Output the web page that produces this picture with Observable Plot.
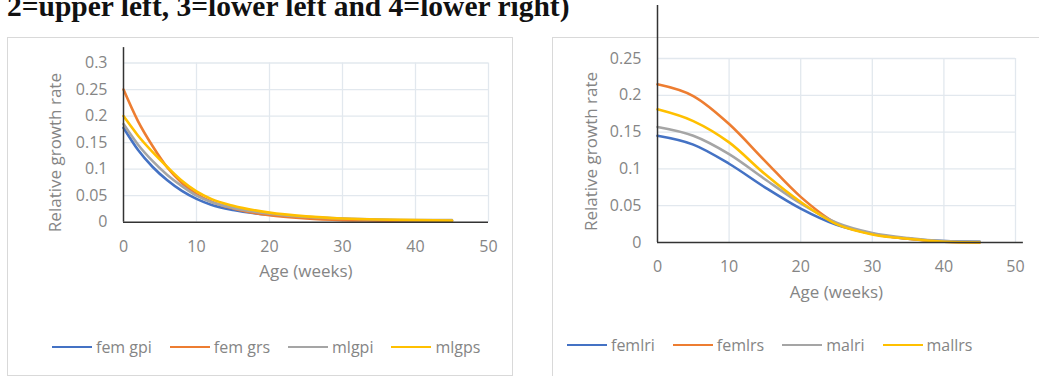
<!DOCTYPE html>
<html>
<head>
<meta charset="utf-8">
<script src="https://cdn.jsdelivr.net/npm/d3@7"></script>
<script src="https://cdn.jsdelivr.net/npm/@observablehq/plot@0.6"></script>
<style>
  html, body { margin: 0; padding: 0; background: #fff; width: 1039px; height: 376px; overflow: hidden; position: relative; }
  .title { position: absolute; left: 7px; top: -8px; font-family: "Liberation Serif", "Times New Roman", serif; font-weight: bold; font-size: 29.5px; line-height: 29px; color: #111; white-space: nowrap; }
  .panel { position: absolute; border: 1px solid #d9d9d9; box-sizing: border-box; }
  .chart { position: absolute; top: 0; }
  .legend { position: absolute; display: flex; align-items: center; font-family: "Open Sans", sans-serif; font-size: 16px; color: #858585; white-space: nowrap; }
  .legend .item { display: flex; align-items: center; }
  .legend .sw { width: 40px; height: 2.5px; margin-right: 4px; }
</style>
</head>
<body>
<div class="title">2=upper left, 3=lower left and 4=lower right)</div>
<div class="panel" style="left:7px;top:37px;width:506px;height:339px;"></div>
<div class="panel" style="left:552px;top:37px;width:500px;height:345px;"></div>
<div id="left" class="chart" style="left:0px;"></div>
<div id="right" class="chart" style="left:534px;"></div>
<div id="legL" class="legend" style="left:52px;top:336px;"></div>
<div id="legR" class="legend" style="left:567px;top:334px;"></div>
<script>
// ---- data: left chart ----
const weeksL = [0, 2, 4, 6, 8, 10, 12, 15, 20, 25, 30, 35, 40, 45];
const femGpi = [0.178, 0.136, 0.104, 0.079, 0.059, 0.044, 0.033, 0.023, 0.014, 0.009, 0.006, 0.004, 0.003, 0.003];
const femGrs = [0.250, 0.190, 0.143, 0.103, 0.074, 0.053, 0.039, 0.026, 0.013, 0.007, 0.004, 0.003, 0.002, 0.002];
const mlgpi  = [0.185, 0.146, 0.115, 0.089, 0.068, 0.050, 0.038, 0.027, 0.016, 0.010, 0.007, 0.005, 0.004, 0.004];
const mlgps  = [0.200, 0.163, 0.132, 0.104, 0.078, 0.058, 0.044, 0.031, 0.018, 0.011, 0.007, 0.005, 0.004, 0.003];
const namesL = ["fem gpi", "fem grs", "mlgpi", "mlgps"];

// ---- data: right chart ----
const weeksR = [0, 5, 10, 15, 20, 25, 30, 35, 40, 45];
const femlri = [0.145, 0.133, 0.107, 0.075, 0.046, 0.024, 0.012, 0.005, 0.002, 0.001];
const femlrs = [0.215, 0.199, 0.161, 0.111, 0.062, 0.026, 0.012, 0.005, 0.001, 0.000];
const malri  = [0.157, 0.145, 0.120, 0.086, 0.053, 0.027, 0.013, 0.006, 0.002, 0.001];
const mallrs = [0.181, 0.165, 0.136, 0.093, 0.055, 0.025, 0.011, 0.005, 0.001, 0.000];
const namesR = ["femlri", "femlrs", "malri", "mallrs"];

// ---- ticks / labels ----
const xTicks = [0, 10, 20, 30, 40, 50];
const yTicksL = [0, 0.05, 0.1, 0.15, 0.2, 0.25, 0.3];
const yTicksR = [0, 0.05, 0.1, 0.15, 0.2, 0.25];
const xTitle = "Age (weeks)";
const yTitle = "Relative growth rate";
const colors = ["#4472C4", "#ED7D31", "#A5A5A5", "#FFC000"];

const tableL = [femGpi, femGrs, mlgpi, mlgps].flatMap((vals, i) =>
  vals.map((v, j) => ({week: weeksL[j], value: v, series: namesL[i]})));
const tableR = [femlri, femlrs, malri, mallrs].flatMap((vals, i) =>
  vals.map((v, j) => ({week: weeksR[j], value: v, series: namesR[i]})));

const txtColor = "#858585";
const font = {fontFamily: "'Open Sans', sans-serif", fontSize: "16px", color: txtColor, background: "transparent", overflow: "visible"};
const gridColor = "#e2e8ee";

function chart({table, names, yTicks, width, mL, mR, mT, mB, axisTop, axisRight, xDy, yDx, yDy}) {
  const yMax = yTicks[yTicks.length - 1];
  return Plot.plot({
    width, height: 300,
    marginLeft: mL, marginRight: mR, marginTop: mT, marginBottom: mB,
    x: {domain: [0, 50]},
    y: {domain: [0, yMax]},
    color: {domain: names, range: colors},
    style: font,
    marks: [
      Plot.gridX(xTicks.filter(d => d > 0), {stroke: gridColor, strokeOpacity: 1, strokeWidth: 1.3}),
      Plot.gridY(yTicks.filter(d => d > 0), {stroke: gridColor, strokeOpacity: 1, strokeWidth: 1.3}),
      Plot.axisX(xTicks, {tickSize: 0, tickPadding: 18, label: null, fill: txtColor}),
      Plot.axisY(yTicks, {tickSize: 0, tickPadding: 16, label: null, fill: txtColor, tickFormat: d => String(d)}),
      Plot.lineY(table, {x: "week", y: "value", stroke: "series", z: "series", curve: "monotone-x", strokeWidth: 2.6}),
      Plot.ruleY([0], {x1: 0, x2: axisRight, stroke: "#333", strokeWidth: 1.5}),
      Plot.ruleX([0], {y1: 0, y2: axisTop, stroke: "#333", strokeWidth: 1.5}),
      Plot.text([xTitle], {frameAnchor: "bottom", dy: xDy, fill: txtColor, fontSize: 17}),
      Plot.text([yTitle], {frameAnchor: "left", rotate: -90, textAnchor: "middle", dx: yDx, dy: yDy, fill: txtColor, fontSize: 17})
    ]
  });
}

document.getElementById("left").append(chart({
  table: tableL, names: namesL, yTicks: yTicksL, width: 519,
  mL: 123, mR: 31, mT: 62.5, mB: 78.3, axisTop: 0.329, axisRight: 50, xDy: 55, yDx: -68, yDy: 10
}));
document.getElementById("right").append(chart({
  table: tableR, names: namesR, yTicks: yTicksR, width: 505,
  mL: 123, mR: 24, mT: 58, mB: 58, axisTop: 0.322, axisRight: 51.1, xDy: 55, yDx: -66, yDy: 1
}));

function legend(id, names) {
  const el = document.getElementById(id);
  names.forEach((n, i) => {
    const it = document.createElement("div");
    it.className = "item";
    it.style.marginRight = i < names.length - 1 ? "18px" : "0";
    const sw = document.createElement("div");
    sw.className = "sw";
    sw.style.background = colors[i];
    const tx = document.createElement("span");
    tx.textContent = n;
    it.append(sw, tx);
    el.append(it);
  });
}
legend("legL", namesL);
legend("legR", namesR);
</script>
</body>
</html>
